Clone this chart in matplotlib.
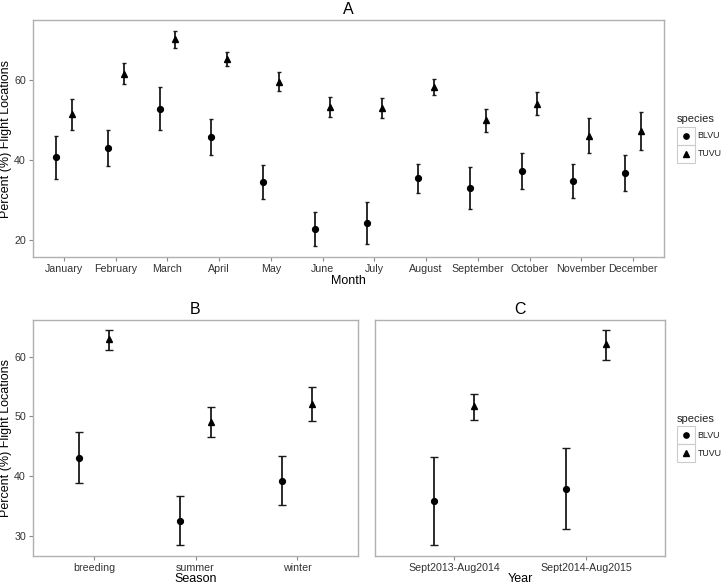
import matplotlib
matplotlib.use('Agg')
import matplotlib.pyplot as plt
from matplotlib.patches import Rectangle
from matplotlib.lines import Line2D
import numpy as np

plt.rcParams['font.family'] = ['Liberation Sans', 'DejaVu Sans']

# --- data ---
months = ['January', 'February', 'March', 'April', 'May', 'June', 'July',
          'August', 'September', 'October', 'November', 'December']
blvu_month = [40.8, 43.0, 52.9, 45.8, 34.5, 22.7, 24.3, 35.5, 33.0, 37.3, 34.9, 36.9]
blvu_month_lo = [35.4, 38.5, 47.6, 41.3, 30.2, 18.5, 19.0, 31.9, 27.8, 32.8, 30.6, 32.4]
blvu_month_hi = [46.2, 47.6, 58.3, 50.4, 38.8, 27.0, 29.6, 39.0, 38.3, 41.8, 39.1, 41.4]
tuvu_month = [51.5, 61.7, 70.3, 65.4, 59.7, 53.3, 53.0, 58.3, 50.0, 54.2, 46.2, 47.4]
tuvu_month_lo = [47.6, 59.0, 68.0, 63.5, 57.3, 50.8, 50.6, 56.3, 47.1, 51.4, 41.7, 42.6]
tuvu_month_hi = [55.3, 64.3, 72.4, 67.0, 62.0, 55.9, 55.5, 60.3, 52.8, 57.0, 50.5, 52.0]

seasons = ['breeding', 'summer', 'winter']
blvu_season = [43.1, 32.5, 39.2]
blvu_season_lo = [38.9, 28.4, 35.1]
blvu_season_hi = [47.4, 36.6, 43.3]
tuvu_season = [62.9, 49.1, 52.1]
tuvu_season_lo = [61.1, 46.6, 49.2]
tuvu_season_hi = [64.5, 51.5, 54.9]

years = ['Sept2013-Aug2014', 'Sept2014-Aug2015']
blvu_year = [35.8, 37.9]
blvu_year_lo = [28.4, 31.2]
blvu_year_hi = [43.2, 44.7]
tuvu_year = [51.7, 62.1]
tuvu_year_lo = [49.4, 59.5]
tuvu_year_hi = [53.8, 64.5]

W, H = 721, 586
fig = plt.figure(figsize=(W / 100, H / 100), dpi=100)


def px_axes(l, t, r, b):
    return fig.add_axes([l / W, 1 - b / H, (r - l) / W, (b - t) / H])


def panel(ax, cats, b, blo, bhi, t, tlo, thi, cap, ylim):
    x = np.arange(1, len(cats) + 1)
    b = np.array(b); t = np.array(t)
    ax.errorbar(x - 0.15, b, yerr=[b - np.array(blo), np.array(bhi) - b],
                fmt='o', color='black', ecolor='#1a1a1a', ms=4.2,
                elinewidth=1.3, capsize=cap, capthick=1)
    ax.errorbar(x + 0.15, t, yerr=[t - np.array(tlo), np.array(thi) - t],
                fmt='^', color='black', ecolor='#1a1a1a', ms=4.8,
                elinewidth=1.3, capsize=cap, capthick=1)
    ax.set_xlim(0.4, len(cats) + 0.6)
    ax.set_ylim(*ylim)
    ax.set_xticks(x)
    ax.set_xticklabels(cats)
    for s in ax.spines.values():
        s.set_color('#b0b0b0')
        s.set_linewidth(1)
    ax.tick_params(colors='#8a8a8a', labelcolor='#333333', labelsize=7.7,
                   length=3, width=0.8, pad=2)


axA = px_axes(33, 20, 664, 257)
panel(axA, months, blvu_month, blvu_month_lo, blvu_month_hi,
      tuvu_month, tuvu_month_lo, tuvu_month_hi, 1.6, (15.8, 75.1))
axA.set_yticks([20, 40, 60])
axA.set_title('A', fontsize=11.5, pad=4)
axA.set_xlabel('Month', fontsize=9, labelpad=1)
axA.set_ylabel('Percent (%) Flight Locations', fontsize=9)
axA.yaxis.set_label_coords((12.5 - 33) / 631, 0.5)

axB = px_axes(33, 320, 358, 556)
panel(axB, seasons, blvu_season, blvu_season_lo, blvu_season_hi,
      tuvu_season, tuvu_season_lo, tuvu_season_hi, 3.2, (26.6, 66.15))
axB.set_yticks([30, 40, 50, 60])
axB.set_title('B', fontsize=11.5, pad=4)
axB.set_xlabel('Season', fontsize=9, labelpad=0)
axB.set_ylabel('Percent (%) Flight Locations', fontsize=9)
axB.yaxis.set_label_coords((12.5 - 33) / 325, 0.5)

axC = px_axes(375, 320, 665, 556)
panel(axC, years, blvu_year, blvu_year_lo, blvu_year_hi,
      tuvu_year, tuvu_year_lo, tuvu_year_hi, 3.2, (26.6, 66.15))
axC.set_yticks([])
axC.set_title('C', fontsize=11.5, pad=4)
axC.set_xlabel('Year', fontsize=9, labelpad=0)


def legend(xl, ytitle, ytop):
    fig.text(xl / W, 1 - ytitle / H, 'species', fontsize=8, color='#222222',
             va='center', ha='left')
    for i, (m, lab) in enumerate([('o', 'BLVU'), ('^', 'TUVU')]):
        y0 = ytop + 18 * i
        fig.add_artist(Rectangle((xl / W, 1 - (y0 + 18) / H), 18 / W, 18 / H,
                                 transform=fig.transFigure, fill=False,
                                 edgecolor='#cccccc', lw=0.8))
        fig.add_artist(Line2D([(xl + 9) / W], [1 - (y0 + 9) / H], marker=m,
                              color='black', ms=3.8 if m == 'o' else 4.3,
                              transform=fig.transFigure))
        fig.text((xl + 20.5) / W, 1 - (y0 + 9) / H, lab, fontsize=6.4,
                 color='#222222', va='center', ha='left')


legend(677, 119, 127)
legend(677, 419, 426)

fig.savefig('out.png', dpi=100)
